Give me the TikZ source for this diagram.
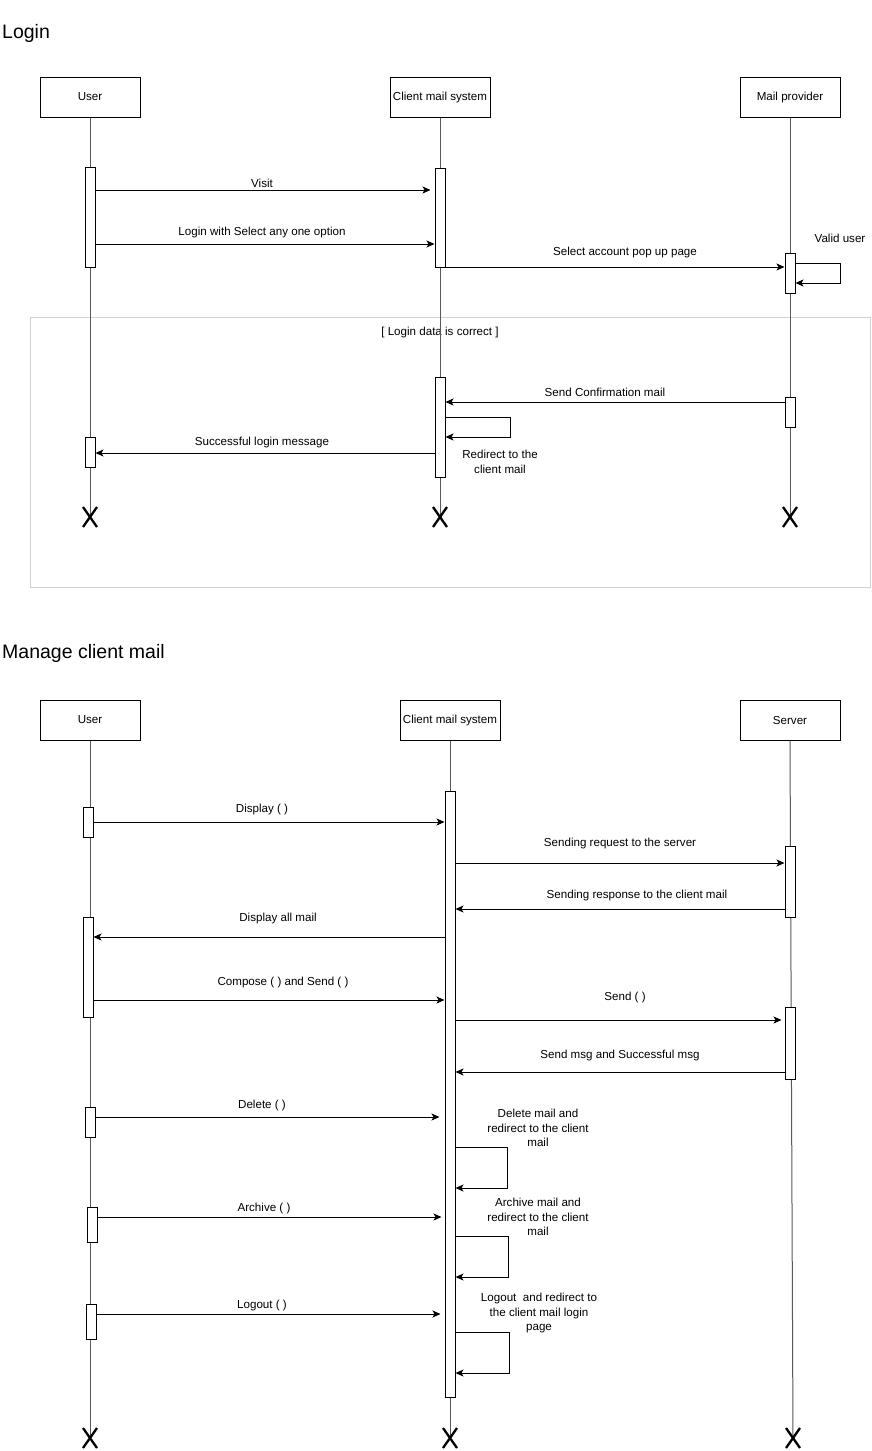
\documentclass[tikz,border=0pt]{standalone}
\usepackage{fontspec}
\setmainfont{Liberation Sans}
\usetikzlibrary{arrows.meta}
\begin{document}
\begin{tikzpicture}[x=1pt,y=-1pt,
  font=\fontsize{11.6}{14.5}\selectfont,
  actor/.style={draw, line width=1pt, fill=white, minimum width=100pt, minimum height=40pt, inner sep=0pt},
  act/.style={draw, line width=1pt, fill=white, minimum width=10pt, inner sep=0pt},
  life/.style={line width=1pt, draw=black!65},
  msg/.style={line width=1pt, -{Stealth[length=8pt,width=7pt,inset=2pt]}},
  lbl/.style={inner sep=0pt, align=center},
  xmark/.style={line width=2.3pt},
  endpt/.style={inner sep=0pt, minimum size=0pt},
  title/.style={font=\fontsize{19.5}{22}\selectfont, anchor=west, inner sep=0pt},
  frame/.style={draw=black!18, line width=1pt, inner sep=0pt}
]
\useasboundingbox (0,0) rectangle (871,1451);

% ---------------- Login ----------------
\node[title] (t1) at (2,33) {Login};

\node[frame, minimum width=840pt, minimum height=270pt, anchor=north west] (alt) at (30,317) {};
\node[lbl] (altlbl) at (440,332) {[ Login data is correct ]};

\node[actor] (u1) at (90,97) {User};
\node[actor] (c1) at (440,97) {Client mail system};
\node[actor] (m1) at (790,97) {Mail provider};

\node[endpt] (ux1) at (90,517) {};
\node[endpt] (cx1) at (440,517) {};
\node[endpt] (mx1) at (790,517) {};

\draw[life] (u1.south) -- (ux1);
\draw[life] (c1.south) -- (cx1);
\draw[life] (m1.south) -- (mx1);

\foreach \n in {ux1,cx1,mx1}
  \draw[xmark] (\n) ++(-7,-10) -- ++(14,20) (\n) ++(7,-10) -- ++(-14,20);

\node[act, minimum height=100pt] (ua1) at (90,217) {};
\node[act, minimum height=99pt] (ca1) at (440,217.5) {};
\node[act, minimum height=40pt] (ma1) at (790,273) {};
\node[act, minimum height=100pt] (ca2) at (440,427) {};
\node[act, minimum height=30pt] (ma2) at (790,412) {};
\node[act, minimum height=30pt] (ua2) at (90,452) {};

\draw[msg, shorten >=4pt] (ua1.east |- 0,190) -- (ca1.west |- 0,190);
\node[lbl] (l1) at (262,183) {Visit};

\draw[msg] (ua1.east |- 0,244) -- (ca1.west |- 0,244);
\node[lbl] (l2) at (262,232) {Login with Select any one option};

\draw[msg] (ca1.east |- 0,267) -- (ma1.west |- 0,267);
\node[lbl] (l3) at (625,252) {Select account pop up page};

\draw[msg] (ma1.east |- 0,263) -- ++(45,0) -- ++(0,20) -- (ma1.east |- 0,283);
\node[lbl] (l4) at (840,238) {Valid user};

\draw[msg] (ma2.west |- 0,402) -- (ca2.east |- 0,402);
\node[lbl] (l5) at (605,392) {Send Confirmation mail};

\draw[msg] (ca2.east |- 0,417) -- ++(65,0) -- ++(0,20) -- (ca2.east |- 0,437);
\node[lbl] (l6) at (500,462) {Redirect to the\\client mail};

\draw[msg] (ca2.west |- 0,453) -- (ua2.east |- 0,453);
\node[lbl] (l7) at (262,442) {Successful login message};

% ---------------- Manage client mail ----------------
\node[title] (t2) at (2,653) {Manage client mail};

\node[actor] (u2) at (90,720) {User};
\node[actor] (c2) at (450,720) {Client mail system};
\node[actor] (s2) at (790,720) {Server};

\node[endpt] (ux2) at (90,1438) {};
\node[endpt] (cx2) at (450,1438) {};
\node[endpt] (sx2) at (793,1438) {};

\draw[life] (u2.south) -- (ux2);
\draw[life] (c2.south) -- (cx2);
\draw[life] (s2.south) -- (sx2);

\foreach \n in {ux2,cx2,sx2}
  \draw[xmark] (\n) ++(-7,-10) -- ++(14,20) (\n) ++(7,-10) -- ++(-14,20);

\node[act, minimum height=606pt] (cb) at (450,1094) {};
\node[act, minimum height=30pt] (ub1) at (88,822) {};
\node[act, minimum height=71pt] (sb1) at (790,881.5) {};
\node[act, minimum height=100pt] (ub2) at (88,967) {};
\node[act, minimum height=72pt] (sb2) at (790,1043) {};
\node[act, minimum height=30pt] (ub3) at (90,1122) {};
\node[act, minimum height=35pt] (ub4) at (92,1224.5) {};
\node[act, minimum height=35pt] (ub5) at (91,1321.5) {};

\draw[msg] (ub1.east |- 0,822) -- (cb.west |- 0,822);
\node[lbl] (m1l) at (262,809) {Display ( )};

\draw[msg] (cb.east |- 0,863) -- (sb1.west |- 0,863);
\node[lbl] (m2l) at (620,843) {Sending request to the server};

\draw[msg] (sb1.west |- 0,909) -- (cb.east |- 0,909);
\node[lbl] (m3l) at (637,895) {Sending response to the client mail};

\draw[msg] (cb.west |- 0,937) -- (ub2.east |- 0,937);
\node[lbl] (m4l) at (278,918) {Display all mail};

\draw[msg] (ub2.east |- 0,1000) -- (cb.west |- 0,1000);
\node[lbl] (m5l) at (283,982) {Compose ( ) and Send ( )};

\draw[msg, shorten >=3pt] (cb.east |- 0,1020) -- (sb2.west |- 0,1020);
\node[lbl] (m6l) at (625,997) {Send ( )};

\draw[msg] (sb2.west |- 0,1072) -- (cb.east |- 0,1072);
\node[lbl] (m7l) at (620,1055) {Send msg and Successful msg};

\draw[msg, shorten >=5pt] (ub3.east |- 0,1117) -- (cb.west |- 0,1117);
\node[lbl] (m8l) at (262,1105) {Delete ( )};

\draw[msg] (cb.east |- 0,1147) -- ++(52,0) -- ++(0,41) -- (cb.east |- 0,1188);
\node[lbl] (m9l) at (538,1128) {Delete mail and\\redirect to the client\\mail};

\draw[msg, shorten >=3pt] (ub4.east |- 0,1217) -- (cb.west |- 0,1217);
\node[lbl] (m10l) at (264,1208) {Archive ( )};

\draw[msg] (cb.east |- 0,1236) -- ++(53,0) -- ++(0,41) -- (cb.east |- 0,1277);
\node[lbl] (m11l) at (538,1217) {Archive mail and\\redirect to the client\\mail};

\draw[msg, shorten >=4pt] (ub5.east |- 0,1314) -- (cb.west |- 0,1314);
\node[lbl] (m12l) at (262,1305) {Logout ( )};

\draw[msg] (cb.east |- 0,1332) -- ++(54,0) -- ++(0,41) -- (cb.east |- 0,1373);
\node[lbl] (m13l) at (539,1313) {Logout\ \ and redirect to\\the client mail login\\page};

\end{tikzpicture}
\end{document}
